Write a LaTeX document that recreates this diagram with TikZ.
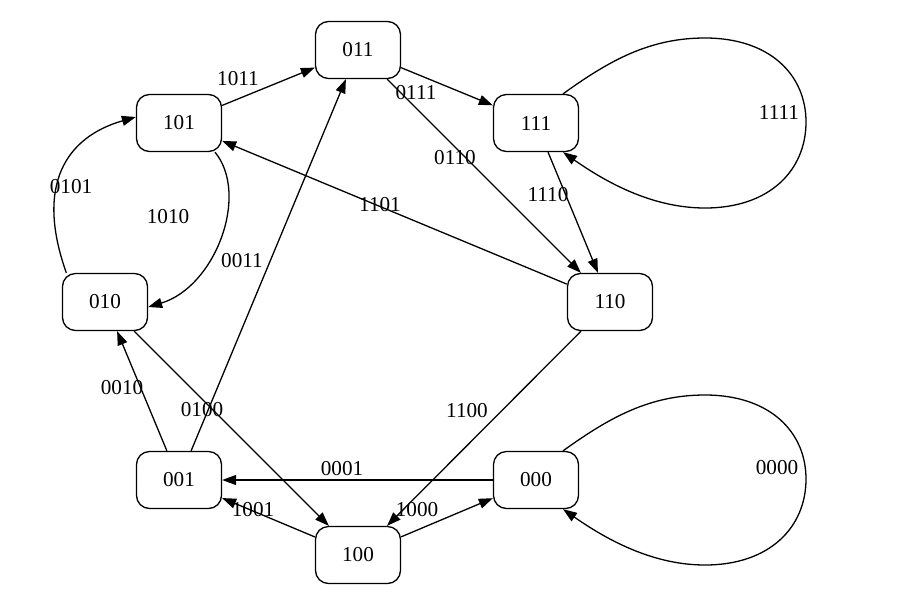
\documentclass[tikz,border=0pt]{standalone}
\usepackage{fontspec}
\setmainfont{Liberation Serif}
\usetikzlibrary{arrows.meta,calc}
\begin{document}
\begin{tikzpicture}[x=0.5pt,y=-0.5pt,
  state/.style={draw, line width=0.65pt, rounded corners=6.5pt, minimum width=42.5pt, minimum height=28.5pt, inner sep=0pt, font=\fontsize{10.6}{12}\selectfont},
  lbl/.style={inner sep=0pt, font=\fontsize{10.6}{12}\selectfont},
  edge/.style={line width=0.65pt, -{Triangle[length=7pt,width=5pt]}}
]
\useasboundingbox (0,0) rectangle (914,600);
% states
\node[state] (n011) at (358,50) {011};
\node[state] (n101) at (179,123) {101};
\node[state] (n111) at (536,123) {111};
\node[state] (n110) at (610,302) {110};
\node[state] (n010) at (105,302) {010};
\node[state] (n001) at (179,480) {001};
\node[state] (n100) at (358,555) {100};
\node[state] (n000) at (536,480) {000};
% straight transitions
\draw[edge] (n101) -- (n011);
\draw[edge] (n001) -- (n011);
\draw[edge] (n011) -- (n111);
\draw[edge] (n011) -- (n110);
\draw[edge] (n111) -- (n110);
\draw[edge] (n110) -- (n101);
\draw[edge] (n010) -- (n100);
\draw[edge] (n001) -- (n010);
\draw[edge] (n000) -- (n001);
\draw[edge] (n100) -- (n001);
\draw[edge] (n100) -- (n000);
\draw[edge] (n110) -- (n100);
% curved transitions
\draw[edge] ($(n010.north west)+(4.5,0)$) .. controls (35,185) and (66,137) .. ($(n101.west)+(0,-6)$);
\draw[edge] ($(n101.south)+(36,0)$) .. controls (250,195) and (215,287) .. ($(n010.east)+(0,5)$);
% self loops
\draw[edge] ($(n111.north)+(27,0)$) .. controls (610,60) and (650,38) .. (705,38)
  .. controls (770,38) and (806,75) .. (806,122)
  .. controls (806,170) and (770,208) .. (705,208)
  .. controls (655,208) and (610,185) .. ($(n111.south)+(27,0)$);
\draw[edge] ($(n000.north)+(27,0)$) .. controls (610,417) and (650,395) .. (705,395)
  .. controls (770,395) and (806,432) .. (806,479)
  .. controls (806,527) and (770,565) .. (705,565)
  .. controls (655,565) and (610,542) .. ($(n000.south)+(27,0)$);
% labels
\node[lbl] (l1011) at (238,79) {1011};
\node[lbl] (l0111) at (416,93) {0111};
\node[lbl] (l0110) at (455,158) {0110};
\node[lbl] (l0101) at (71,187) {0101};
\node[lbl] (l1010) at (168,217) {1010};
\node[lbl] (l1101) at (380,205) {1101};
\node[lbl] (l0011) at (242,261) {0011};
\node[lbl] (l1111) at (779,112) {1111};
\node[lbl] (l1110) at (548,195) {1110};
\node[lbl] (l0010) at (122,388) {0010};
\node[lbl] (l0100) at (202,410) {0100};
\node[lbl] (l0001) at (342,469) {0001};
\node[lbl] (l1001) at (253,510) {1001};
\node[lbl] (l1000) at (417,510) {1000};
\node[lbl] (l1100) at (467,411) {1100};
\node[lbl] (l0000) at (777,468) {0000};
\end{tikzpicture}
\end{document}
